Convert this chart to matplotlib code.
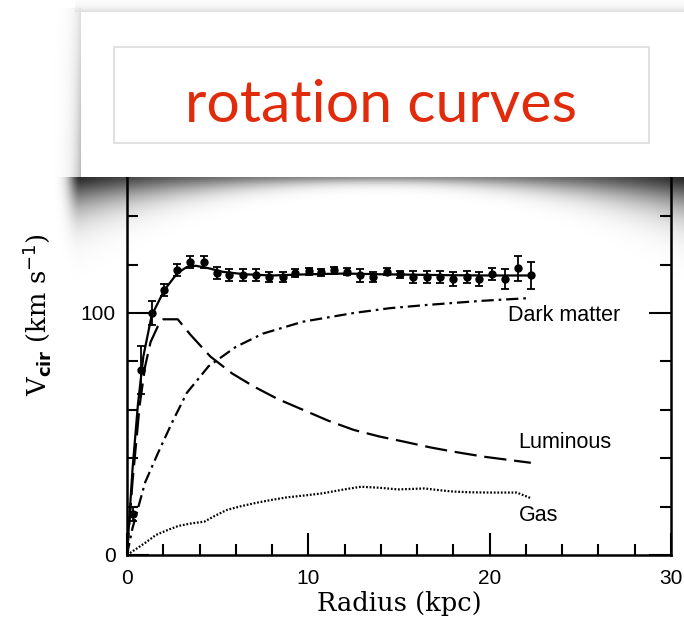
"""Rotation curve of a spiral galaxy (scanned figure) with a slide-style title card on top."""
import matplotlib
matplotlib.use("Agg")
import matplotlib.pyplot as plt
from matplotlib.patches import Rectangle
from matplotlib.ticker import MultipleLocator
import numpy as np

W, H = 684, 617

# observed points: radius (kpc), v_cir (km/s), error
R_OBS = [0.33, 0.76, 1.36, 2.06, 2.78, 3.48, 4.25, 4.96, 5.65, 6.39,
         7.11, 7.85, 8.58, 9.28, 10.02, 10.70, 11.44, 12.14, 12.87, 13.57,
         14.35, 15.04, 15.78, 16.52, 17.25, 17.99, 18.73, 19.41, 20.15, 20.83,
         21.56, 22.27]
V_OBS = [17, 76.5, 100, 109.5, 117.8, 121.2, 121.2, 116.7, 115.8, 115.8,
         115.8, 115.0, 115.0, 116.5, 117.2, 116.8, 117.7, 117.0, 115.5, 114.8,
         117.0, 116.0, 115.0, 115.0, 114.8, 114.0, 114.8, 114.0, 116.3, 114.0,
         118.4, 115.5]
V_ERR = [3, 10, 5, 2.5, 2.5, 2.5, 2.5, 2.5, 2.5, 2.5,
         2.5, 2, 2, 1.5, 1.5, 1.5, 1.5, 1.5, 2.5, 2,
         1.5, 1.5, 2.5, 2.5, 2.5, 3, 2.5, 3, 2.5, 4,
         5, 5.5]

# model components
R_TOT = [0, 0.3, 0.6, 0.9, 1.36, 2.06, 2.78, 3.3, 3.8, 4.5, 5.3, 6.5, 8, 10, 12, 14, 16, 18, 20, 22.27]
V_TOT = [0, 35, 62, 82, 99, 109.5, 116.5, 119, 119.5, 118.5, 117, 116, 115.5, 116, 116.3, 116, 115.8, 115.6, 115.5, 115.5]

R_LUM = [0, 0.3, 0.7, 1.0, 1.3, 1.7, 2.0, 2.8, 3.5, 4.6, 5.8, 7.0, 8.3, 9.7, 11.1, 12.5, 13.9, 15.3, 16.7, 18.0, 19.7, 22.27]
V_LUM = [0, 30, 62, 78, 88, 94.5, 97.4, 97.4, 91, 82, 75, 69.6, 64.5, 60, 55.5, 51.7, 49, 46.8, 44.5, 42.7, 40.6, 38.1]

R_DM = [0, 0.3, 1.0, 1.7, 2.5, 3.3, 4.5, 6.0, 7.5, 9.7, 12.5, 14.5, 16.5, 19.5, 22.27]
V_DM = [0, 11, 30, 42, 55, 67, 78, 86, 91.5, 96.4, 100, 102, 103.3, 105, 106.2]

R_GAS = [0, 0.5, 1.0, 1.6, 2.3, 2.83, 3.5, 4.27, 4.8, 5.5, 6.3, 7.15, 8.0, 8.8,
         9.8, 10.8, 11.9, 12.9, 13.9, 14.95, 15.7, 16.4, 17.2, 18.0, 19.0, 20.1, 21.5, 22.3]
V_GAS = [0, 2.5, 5, 8.3, 10.5, 12, 13, 13.8, 16, 18.6, 20.2, 21.6, 22.8, 23.8,
         24.6, 25.5, 27, 28.2, 27.8, 27.1, 27.3, 27.5, 26.8, 26.2, 25.9, 25.8, 25.8, 23.4]

LABELS = [("Dark matter", 21.0, 98.8), ("Luminous", 21.6, 46.3), ("Gas", 21.6, 16.5)]
TITLE = "rotation curves"


def shadow_rgba():
    """Soft grey drop shadow under / around the title card (pixel grid)."""
    yy, xx = np.mgrid[0:H, 0:W] + 0.5
    a = np.zeros((H, W))
    # curled shadow below the card: deeper at the corners
    u = np.clip((xx - 380) / 304.0, -1.1, 1.1) ** 2
    L = 14 + 55 * u
    d = yy - 177
    below = np.where(d > 0, (0.45 + 0.4 * u) * np.exp(-3 * (np.clip(d, 0, None) / L) ** 1.4), 0)
    below *= np.where(xx < 81, np.exp(-((81 - xx) / 12.0) ** 2), 1)
    a = np.maximum(a, below)
    # thin haze left of and above the card
    left = np.where((xx < 81) & (yy > 8) & (yy < 180), 0.3 * np.exp(-(81 - xx) / 7.0) * (0.4 + 0.6 * yy / 180), 0)
    top = np.where((yy < 12) & (xx > 75), 0.14 * np.exp(-(12 - yy) / 5.0), 0)
    a = np.maximum(a, np.maximum(left, top))
    img = np.zeros((H, W, 4))
    img[..., 3] = np.clip(a, 0, 0.9)
    return img


def main():
    fig = plt.figure(figsize=(W / 100, H / 100), dpi=100)
    ax = fig.add_axes([127 / W, 1 - 555 / H, (671 - 127) / W, (555 - 71) / H])

    ax.plot(R_TOT, V_TOT, "-", color="k", lw=1.6)
    ax.errorbar(R_OBS, V_OBS, yerr=V_ERR, fmt="o", color="k", ms=5, capsize=3, elinewidth=1.3, capthick=1.3)
    lum, = ax.plot(R_LUM, V_LUM, color="k", lw=1.6)
    lum.set_dashes([10, 3.5])
    dm, = ax.plot(R_DM, V_DM, color="k", lw=1.6)
    dm.set_dashes([5.5, 2.2, 1.2, 2.2])
    ax.plot(R_GAS, V_GAS, color="k", lw=1.6, ls=(0, (0.8, 0.8)))

    for txt, x, y in LABELS:
        ax.text(x, y, txt, fontsize=15.5, family="Liberation Sans", ha="left", va="center")

    ax.set_xlim(0, 30); ax.set_ylim(0, 200)
    ax.xaxis.set_major_locator(MultipleLocator(10)); ax.xaxis.set_minor_locator(MultipleLocator(2))
    ax.yaxis.set_major_locator(MultipleLocator(100)); ax.yaxis.set_minor_locator(MultipleLocator(20))
    ax.tick_params(which="both", direction="in", top=True, right=True, width=1.5,
                   labelsize=15, labelfontfamily="Liberation Sans")
    ax.tick_params(which="major", length=16)
    ax.tick_params(which="minor", length=8)
    ax.tick_params(axis="x", pad=10)
    ax.tick_params(axis="y", pad=8)
    for s in ax.spines.values():
        s.set_linewidth(1.8)

    ax.set_xlabel("Radius (kpc)", family="DejaVu Serif", fontsize=18.5)
    ax.xaxis.set_label_coords(0.5, (555 - 603) / 484)
    ax.xaxis.label.set_va("center")
    ax.set_ylabel(r"V$_{\mathbf{cir}}$ (km s$^{-1}$)", family="DejaVu Serif", fontsize=18.5)
    ax.yaxis.set_label_coords((37 - 127) / 544, (555 - 315) / 484)
    ax.yaxis.label.set_va("center")

    # ---- title card overlay ----
    ov = fig.add_axes([0, 0, 1, 1], zorder=10)
    ov.set_xlim(0, W); ov.set_ylim(H, 0); ov.axis("off")
    ov.patch.set_alpha(0)
    ov.imshow(shadow_rgba(), extent=(0, W, H, 0), interpolation="bilinear", zorder=1)
    ov.add_patch(Rectangle((81, 12), 700, 165, fc="white", ec="none", zorder=2))
    ov.add_patch(Rectangle((114, 47), 535, 96, fc="none", ec="#dcdcdc", lw=1.2, zorder=3))
    ov.text(381, 122, TITLE, color="#e02b0c", fontsize=42.5, family="Lato",
            ha="center", va="baseline", zorder=4)
    ov.set_xlim(0, W); ov.set_ylim(H, 0)

    fig.savefig("out.png", dpi=100)
    plt.close(fig)


if __name__ == "__main__":
    main()
